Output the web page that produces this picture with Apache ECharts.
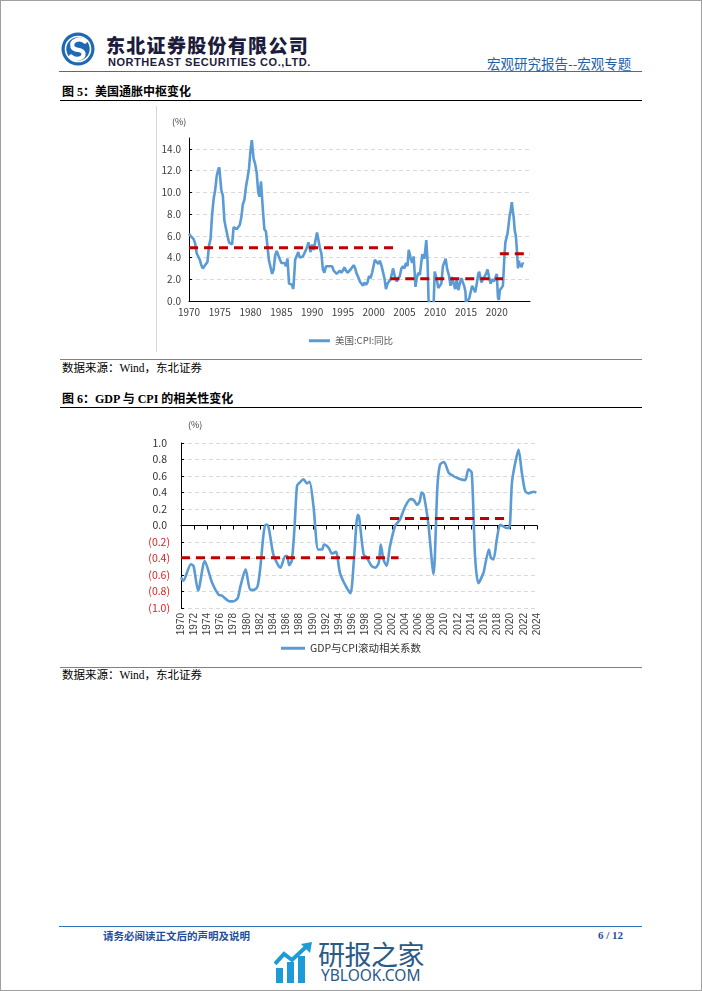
<!DOCTYPE html>
<html>
<head>
<meta charset="utf-8">
<script src="https://cdn.jsdelivr.net/npm/echarts@6/dist/echarts.min.js"></script>
<style>
html,body{margin:0;padding:0;background:#fff;}
#page{position:relative;width:702px;height:991px;overflow:hidden;background:#fff;font-family:"Liberation Serif","Noto Sans CJK SC",serif;color:#000;}
#frame{position:absolute;left:0;top:0;width:702px;height:991px;box-sizing:border-box;border:1px solid #a0a0a0;pointer-events:none;}
.abs{position:absolute;white-space:nowrap;}
.hline{position:absolute;height:0;}
.cap{font-weight:bold;font-size:12px;line-height:14px;}
.src{font-size:11.5px;line-height:14px;}
</style>
</head>
<body>
<div id="page">
  <!-- header -->
  <svg class="abs" style="left:60px;top:31px" width="38" height="38" viewBox="0 0 38 38">
    <circle cx="18" cy="18" r="16.5" fill="#1f68b3"/>
    <circle cx="18" cy="18" r="12.5" fill="none" stroke="#fff" stroke-width="1.6"/>
    <path d="M25,10.5 C20,6.5 10.5,9 12.5,16 C14,20.5 23,17 23.5,22.5 C24,28 15,29.5 11,25.5" fill="none" stroke="#fff" stroke-width="4.2" stroke-linecap="round"/>
  </svg>
  <div class="abs" style="left:106px;top:34px;font-family:'Noto Sans CJK SC';font-weight:900;font-size:19px;line-height:22px;letter-spacing:1.3px;color:#1c1c3c;">东北证券股份有限公司</div>
  <div class="abs" style="left:108px;top:56px;font-family:'Liberation Sans','Noto Sans';font-weight:bold;font-size:11px;line-height:13px;letter-spacing:0.55px;color:#1c1c3c;">NORTHEAST SECURITIES CO.,LTD.</div>
  <div class="abs" style="left:487px;top:55px;font-family:'Noto Sans CJK SC';font-size:13.5px;line-height:16px;color:#2462a8;">宏观研究报告--宏观专题</div>
  <div class="hline" style="left:59px;top:71px;width:583px;border-top:1.5px solid #2e75b6;"></div>

  <div class="abs cap" style="left:62px;top:85px;">图 5：美国通胀中枢变化</div>
  <div class="hline" style="left:60px;top:100px;width:582px;border-top:1px solid #000;"></div>

  <div class="abs" style="left:156px;top:106px;width:0;height:246px;border-left:1px solid #d8d8d8;"></div>
  <div id="c1" class="abs" style="left:0;top:105px;width:702px;height:245px;"></div>

  <div class="hline" style="left:60px;top:359px;width:582px;border-top:1px solid #808080;"></div>
  <div class="abs src" style="left:62px;top:361px;">数据来源：Wind，东北证券</div>

  <div class="abs cap" style="left:62px;top:392px;">图 6：GDP 与 CPI 的相关性变化</div>
  <div class="hline" style="left:60px;top:407px;width:582px;border-top:1px solid #000;"></div>

  <div id="c2" class="abs" style="left:0;top:415px;width:702px;height:250px;"></div>

  <div class="hline" style="left:60px;top:667px;width:582px;border-top:1px solid #808080;"></div>
  <div class="abs src" style="left:62px;top:668px;">数据来源：Wind，东北证券</div>

  <!-- footer -->
  <div class="hline" style="left:59px;top:926px;width:583px;border-top:1.5px solid #2e75b6;"></div>
  <div class="abs" style="left:103px;top:929px;font-family:'Noto Sans CJK SC';font-weight:bold;font-size:10.5px;line-height:13px;color:#1f4e9a;">请务必阅读正文后的声明及说明</div>
  <div class="abs" style="left:598px;top:929px;font-weight:bold;font-size:11px;line-height:13px;color:#1f4e9a;">6 / 12</div>

  <svg class="abs" style="left:274px;top:942px" width="44" height="42" viewBox="0 0 44 42">
    <rect x="2" y="26" width="7" height="15" fill="#1e9bd7"/>
    <rect x="13" y="20" width="7" height="21" fill="#1e9bd7"/>
    <rect x="24" y="14" width="7" height="27" fill="#1e9bd7"/>
    <polyline points="1,22 10,12 18,18 33,4" fill="none" stroke="#1e9bd7" stroke-width="4"/>
    <polygon points="27,2 38,0 36,11" fill="#1e9bd7"/>
  </svg>
  <div class="abs" style="left:318px;top:939px;font-family:'Noto Sans CJK SC';font-size:27px;line-height:30px;color:#2a5a86;letter-spacing:-0.5px;">研报之家</div>
  <div class="abs" style="left:321px;top:967px;font-family:'Noto Sans','Liberation Sans';font-size:15.5px;line-height:17px;color:#2a5a86;">YBLOOK.COM</div>

  <div id="frame"></div>
</div>

<script>
// ===== Chart 1: US CPI YoY (%) =====
const cpiDates = [
 1970.0,1970.25,1970.5,1970.75,1971.0,1971.25,1971.5,1971.75,1972.0,1972.25,1972.5,1972.75,
 1973.0,1973.25,1973.5,1973.75,1974.0,1974.25,1974.5,1974.75,1974.92,1975.0,1975.25,1975.5,1975.75,
 1976.0,1976.25,1976.5,1976.75,1977.0,1977.25,1977.5,1977.75,1978.0,1978.25,1978.5,1978.75,
 1979.0,1979.25,1979.5,1979.75,1980.0,1980.2,1980.5,1980.75,1981.0,1981.25,1981.45,1981.7,
 1982.0,1982.25,1982.5,1982.75,1983.0,1983.25,1983.5,1983.75,1984.0,1984.25,1984.5,1984.75,
 1985.0,1985.25,1985.5,1985.75,1986.0,1986.25,1986.5,1986.75,1986.92,1987.0,1987.25,1987.5,1987.75,
 1988.0,1988.25,1988.5,1988.75,1989.0,1989.25,1989.4,1989.75,1990.0,1990.25,1990.5,1990.8,
 1991.0,1991.25,1991.5,1991.75,1992.0,1992.25,1992.5,1992.75,1993.0,1993.25,1993.5,1993.75,
 1994.0,1994.25,1994.5,1994.75,1995.0,1995.25,1995.5,1995.75,1996.0,1996.25,1996.5,1996.75,
 1997.0,1997.25,1997.5,1997.75,1998.0,1998.25,1998.5,1998.75,1999.0,1999.25,1999.5,1999.75,
 2000.0,2000.2,2000.5,2000.75,2001.0,2001.25,2001.5,2001.75,2002.0,2002.25,2002.5,2002.75,
 2003.0,2003.15,2003.5,2003.75,2004.0,2004.25,2004.5,2004.75,2005.0,2005.25,2005.5,2005.7,
 2006.0,2006.25,2006.5,2006.8,2007.0,2007.25,2007.5,2007.9,2008.0,2008.25,2008.55,2008.75,2008.92,
 2009.2,2009.5,2009.75,2009.92,2010.0,2010.25,2010.5,2010.75,2011.0,2011.25,2011.5,2011.7,2011.92,
 2012.25,2012.5,2012.75,2013.0,2013.25,2013.5,2013.75,2014.0,2014.25,2014.5,2014.75,2014.92,
 2015.0,2015.25,2015.5,2015.75,2016.0,2016.25,2016.5,2016.75,2017.0,2017.15,2017.5,2017.75,
 2018.0,2018.25,2018.5,2018.75,2019.0,2019.25,2019.5,2019.75,2020.0,2020.2,2020.35,2020.5,2020.75,
 2021.0,2021.25,2021.4,2021.6,2021.75,2021.92,2022.1,2022.25,2022.45,2022.6,2022.75,2022.92,
 2023.1,2023.25,2023.45,2023.6,2023.75,2023.92,2024.0,2024.2,2024.3
];
const cpiValues = [
 6.2,6.0,5.9,5.7,5.3,4.4,4.3,3.8,3.3,3.0,2.9,3.4,
 3.6,5.1,5.7,7.9,9.4,10.2,11.5,12.1,12.3,11.8,10.2,9.7,7.4,
 6.7,6.0,5.4,5.3,5.2,6.8,6.9,6.6,6.8,7.0,7.7,8.9,
 9.3,10.5,11.3,12.2,13.9,14.8,13.1,12.6,11.8,10.0,9.6,11.0,
 8.4,6.6,6.4,5.0,3.7,3.6,2.5,2.9,4.2,4.6,4.2,4.3,
 3.5,3.6,3.5,3.2,3.9,1.6,1.6,1.5,1.1,1.5,3.8,3.9,4.5,
 4.0,3.9,4.1,4.2,4.7,5.1,5.4,4.5,5.2,4.7,4.8,6.3,
 5.7,4.9,4.4,2.9,2.6,3.2,3.2,3.2,3.3,3.2,2.8,2.8,
 2.5,2.4,2.8,2.6,2.8,3.1,2.8,2.6,2.7,2.9,3.0,3.3,
 3.0,2.5,2.2,1.8,1.6,1.4,1.7,1.5,1.7,2.3,2.1,2.6,
 2.7,3.8,3.7,3.4,3.7,3.3,2.7,2.1,1.1,1.6,1.5,2.0,
 2.6,3.0,2.1,1.8,1.9,2.3,3.0,3.2,3.0,3.5,3.2,4.7,
 4.0,3.5,4.1,1.3,2.1,2.6,2.4,4.3,4.3,3.9,5.6,3.7,0.1,
 -0.4,-2.1,-0.2,2.7,2.6,2.0,1.2,1.1,1.6,3.2,3.6,3.9,3.0,
 2.3,1.4,2.2,1.6,1.1,2.0,1.0,1.6,2.1,2.0,1.3,0.8,
 -0.1,0.0,0.2,0.2,1.4,1.1,0.8,1.6,2.5,2.7,1.7,2.0,
 2.1,2.5,2.9,2.2,1.6,2.0,1.8,2.1,2.5,0.3,0.1,1.0,1.2,
 1.4,4.2,5.4,5.3,6.2,7.0,7.9,8.3,9.1,8.3,7.7,6.5,
 6.0,4.9,3.0,3.7,3.2,3.4,3.1,3.5,3.4
];
const cpiSeriesName = '美国:CPI:同比';
const cpiYTicks = [0, 2, 4, 6, 8, 10, 12, 14];
// average (central) levels shown as red dashed lines
const cpiAvgStart = [1970, 2002.7, 2020.5];
const cpiAvgEnd   = [2003.4, 2021.0, 2025.4];
const cpiAvgLevel = [4.9, 2.05, 4.35];

// ===== Chart 2: rolling correlation GDP vs CPI =====
const corrDates = [
 1970.0,1970.35,1971.5,1971.9,1972.6,1973.6,1974.7,1975.7,1976.2,1977.4,1977.9,1978.6,1979.0,1979.8,
 1980.5,1981.0,1981.6,1982.0,1982.8,1983.1,1984.0,1984.8,1985.1,1985.8,1986.1,1986.4,1986.8,1987.2,
 1987.6,1988.0,1988.6,1989.1,1989.5,1990.1,1990.8,1991.4,1991.7,1992.4,1992.9,1993.5,1994.1,1994.9,
 1995.7,1996.2,1996.8,1997.0,1997.7,1998.2,1998.9,1999.5,2000.0,2000.3,2000.7,2001.2,2001.7,2002.5,
 2003.2,2004.0,2004.8,2005.3,2005.8,2006.2,2006.5,2006.8,2007.5,2008.3,2008.9,2009.3,2009.9,2010.6,
 2011.3,2011.8,2012.4,2013.1,2013.6,2014.1,2014.6,2015.1,2015.9,2016.1,2016.7,2017.0,2017.4,2017.9,
 2018.4,2018.9,2019.4,2019.8,2020.2,2020.7,2021.2,2021.7,2022.2,2022.7,2023.5,2023.9
];
const corrValues = [
 -0.63,-0.67,-0.47,-0.49,-0.79,-0.43,-0.69,-0.84,-0.85,-0.92,-0.92,-0.88,-0.74,-0.53,
 -0.78,-0.78,-0.74,-0.53,0.01,0.01,-0.35,-0.49,-0.51,-0.37,-0.37,-0.48,-0.43,-0.05,
 0.48,0.52,0.56,0.51,0.53,0.23,-0.29,-0.29,-0.23,-0.27,-0.34,-0.32,-0.57,-0.72,
 -0.82,-0.45,0.13,0.11,-0.35,-0.39,-0.49,-0.51,-0.45,-0.23,-0.41,-0.49,-0.25,0.0,
 0.07,0.23,0.32,0.31,0.25,0.29,0.40,0.38,0.03,-0.59,0.48,0.74,0.77,0.64,
 0.60,0.58,0.56,0.55,0.68,0.64,-0.37,-0.70,-0.57,-0.49,-0.29,-0.39,-0.41,-0.17,
 0.01,-0.01,-0.03,-0.03,0.52,0.76,0.92,0.64,0.42,0.39,0.41,0.40
];
const corrSeriesName = 'GDP与CPI滚动相关系数';
const corrAvgStart = [1970, 2001.7];
const corrAvgEnd   = [2003.0, 2019.6];
const corrAvgLevel = [-0.39, 0.085];

const BLUE = '#5b9bd5', RED = '#c00000';
const axisTxt = '#404040';

function dashSeries(starts, ends, levels) {
  return starts.map((s, i) => ({
    type: 'line', data: [[s, levels[i]], [ends[i], levels[i]]],
    showSymbol: false, silent: true, z: 4,
    lineStyle: { color: RED, width: 3, type: [9, 6] }
  }));
}

// ---- chart 1 ----
const c1 = echarts.init(document.getElementById('c1'), null, { renderer: 'canvas' });
c1.setOption({
  animation: false,
  grid: { left: 189, right: 172, top: 33, bottom: 49 },
  graphic: [{ type: 'text', left: 172, top: 12, style: { text: '(%)', fontSize: 9, fill: axisTxt, fontFamily: 'Noto Sans CJK SC' } }],
  legend: {
    data: [cpiSeriesName], top: 226, left: 'center', icon: 'rect', itemWidth: 21, itemHeight: 3, itemGap: 4,
    textStyle: { fontSize: 9.5, color: '#595959', fontFamily: 'Noto Sans CJK SC' }
  },
  xAxis: {
    type: 'value', min: 1970, max: 2025.4, interval: 5,
    axisLine: { show: true, onZero: false, lineStyle: { color: '#000', width: 1 } },
    axisTick: { show: false },
    splitLine: { show: false },
    axisLabel: { margin: 6, fontSize: 10, color: axisTxt, fontFamily: 'Noto Sans CJK SC', showMaxLabel: false,
      formatter: v => (v <= 2020 && Math.abs(v % 5) < 1e-6) ? String(v) : '' }
  },
  yAxis: {
    type: 'value', min: cpiYTicks[0], max: 15, interval: 2,
    axisLine: { show: true, lineStyle: { color: '#000', width: 1 } },
    axisTick: { show: true, inside: true, length: 3, lineStyle: { color: '#000' } },
    splitLine: { show: true, showMaxLine: false, lineStyle: { color: '#d9d9d9', type: [4, 3], width: 1 } },
    axisLabel: { margin: 8, fontSize: 10, color: axisTxt, fontFamily: 'Noto Sans CJK SC', showMaxLabel: false,
      formatter: v => cpiYTicks.indexOf(v) >= 0 ? v.toFixed(1) : '' }
  },
  series: [{
    name: cpiSeriesName, type: 'line', data: cpiDates.map((d, i) => [d, cpiValues[i]]),
    showSymbol: false, z: 3, color: BLUE, lineStyle: { color: BLUE, width: 2.6 }
  }].concat(dashSeries(cpiAvgStart, cpiAvgEnd, cpiAvgLevel))
});

// ---- chart 2 ----
const c2 = echarts.init(document.getElementById('c2'), null, { renderer: 'canvas' });
c2.setOption({
  animation: false,
  grid: { left: 181, right: 165, top: 28, bottom: 57 },
  graphic: [{ type: 'text', left: 188, top: 5, style: { text: '(%)', fontSize: 9, fill: axisTxt, fontFamily: 'Noto Sans CJK SC' } }],
  legend: {
    data: [corrSeriesName], top: 223, left: 'center', icon: 'rect', itemWidth: 24, itemHeight: 3, itemGap: 2,
    textStyle: { fontSize: 10.5, color: '#333', fontFamily: 'Noto Sans CJK SC' }
  },
  xAxis: [{
    type: 'value', min: 1970, max: 2024, interval: 2, position: 'bottom',
    axisLine: { show: false, onZero: false }, axisTick: { show: false }, splitLine: { show: false },
    axisLabel: { rotate: 90, margin: 5, fontSize: 10, color: axisTxt, fontFamily: 'Liberation Sans', formatter: v => String(v) }
  }, {
    type: 'value', min: 1970, max: 2024, interval: 2, position: 'top',
    axisLine: { show: true, onZero: true, lineStyle: { color: '#000', width: 1 } },
    axisTick: { show: true, inside: true, length: 4, lineStyle: { color: '#000' } },
    axisLabel: { show: false }, splitLine: { show: false }
  }],
  yAxis: {
    type: 'value', min: -1, max: 1, interval: 0.2,
    axisLine: { show: true, lineStyle: { color: '#000', width: 1 } },
    axisTick: { show: true, inside: true, length: 3, lineStyle: { color: '#000' } },
    splitLine: { show: true, lineStyle: { color: '#d9d9d9', type: [4, 3], width: 1 } },
    axisLabel: {
      margin: 11, fontSize: 10.5, color: axisTxt, fontFamily: 'Noto Sans CJK SC',
      formatter: v => v < -1e-9 ? '{n|(' + Math.abs(v).toFixed(1) + ')}' : '{p|' + Math.abs(v).toFixed(1) + '}',
      rich: { n: { color: '#e02020', fontSize: 10.5, fontFamily: 'Noto Sans CJK SC' },
              p: { color: '#333', fontSize: 10.5, fontFamily: 'Noto Sans CJK SC', padding: [0, 3, 0, 0] } }
    }
  },
  series: [{
    name: corrSeriesName, type: 'line', xAxisIndex: 0, data: corrDates.map((d, i) => [d, corrValues[i]]),
    showSymbol: false, smooth: 0.25, z: 3, color: BLUE, lineStyle: { color: BLUE, width: 2.6 }
  }].concat(dashSeries(corrAvgStart, corrAvgEnd, corrAvgLevel))
});
</script>
</body>
</html>
